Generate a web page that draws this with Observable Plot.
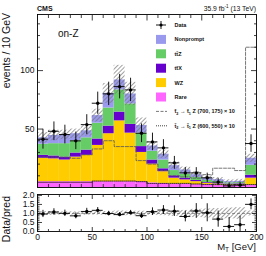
<!DOCTYPE html>
<html><head><meta charset="utf-8">
<script src="https://cdn.jsdelivr.net/npm/d3@7"></script>
<script src="https://cdn.jsdelivr.net/npm/@observablehq/plot@0.6"></script>
<style>
body{margin:0;background:#fff;}
#wrap{position:relative;width:266px;height:256px;}
#wrap svg{position:absolute;left:0;}
</style></head><body><div id="wrap"></div>
<script>
const FONT = "'Liberation Sans', Arial, Helvetica, sans-serif";

// ---- data ----
const binLow = [0,10,20,30,40,50,60,70,80,90,100,110,120,130,140,150,160,170,180,190];
const binWidth = 10;
const processes = ["Rare","WZ","ttX","ttZ","Nonprompt"];
const colors = ["#ff66ff","#ffcc00","#6600cc","#66cc66","#9999ee"];
const rare      = [5,5,5,5,5,5,5,5,5,5,4,3.5,3,3,2.5,2.5,2,2,2,2];
const wz        = [20,19.5,18.5,21,22.5,31,41,52,41.5,25,16,10,5,3.5,2.5,1,1,0.5,0.7,6];
const ttx       = [2.5,2.5,2.5,3.5,4.5,5.5,6.5,7.5,7.5,5,3.5,2.5,2,1.5,1,0.7,0.5,0.5,0.5,2.5];
const ttz       = [9.5,10.5,11.5,10.5,10.5,13.5,15.5,19,17.5,11.5,7.5,7.5,4.5,3.5,2.5,1.8,1.5,1,1,8.5];
const nonprompt = [5.5,7,7.5,6,6,6.5,12.5,8.5,8.5,6.5,4.5,5,4.2,3.5,2.5,2,1.7,1,1.1,6];
const bkgUnc    = [4.5,4.5,4,4,4.5,5.5,8.5,12.5,10,6.5,3.5,3.5,3,2.5,2.5,2,1.8,1.5,1.7,3.5];
const dataY     = [41.3,48.1,45.3,39.9,53.8,72.1,80.1,86.3,83.5,46.4,39,33.9,21.1,12.5,12.5,8.3,4.6,1.4,2,37.6];
const dataErr   = [8.5,8,8,7.5,8.5,9.5,10,10.5,10,8,7.5,7,5.5,4.5,4.5,4,3,2.5,2.5,7.5];
const sig700    = [26,26,26,25,28,33,40,35,35,23,20,14.5,10,9,8,11,16.5,16.5,14.5,120];
const sig600    = [4.5,4.5,4.5,4.5,4.5,5.5,5.5,5.5,5.5,5,3.5,3.5,3.5,3.5,3,2.5,2.5,2.5,2.5,2.5];

const xTicksMajor = [0,50,100,150,200];
const xTicksMinor = [10,20,30,40,60,70,80,90,110,120,130,140,160,170,180,190];
const yTicksMajor = [0,50,100];
const yTicksMinor = [10,20,30,40,60,70,80,90,110,120,130,140];
const yTickLabels = [50,100];
const rTicksMajor = [0,0.5,1,1.5,2];
const rTicksMinor = [0.1,0.2,0.3,0.4,0.6,0.7,0.8,0.9,1.1,1.2,1.3,1.4,1.6,1.7,1.8,1.9];

const legendLabels = ["Data","Nonprompt","tt\u0304Z","tt\u0304X","WZ","Rare"];

// ---- derived tables ----
const comps = [rare, wz, ttx, ttz, nonprompt];
const stackRows = [];
processes.forEach((p, k) => binLow.forEach((x, i) =>
  stackRows.push({x1: x, x2: x + binWidth, y: comps[k][i], proc: p})));
const bins = binLow.map((x, i) => {
  const tot = rare[i] + wz[i] + ttx[i] + ttz[i] + nonprompt[i];
  return {x1: x, x2: x + binWidth, xc: x + binWidth / 2, tot, unc: bkgUnc[i],
          data: dataY[i], err: dataErr[i], ratio: dataY[i] / tot, rerr: dataErr[i] / tot};
});
const stepLine = arr => [...binLow.map((x, i) => ({x, y: arr[i]})),
  {x: binLow[binLow.length - 1] + binWidth, y: arr[arr.length - 1]}];

function tickAxes(kind, major, minor, majLen, minLen) {
  const ax = kind === "x" ? Plot.axisX : Plot.axisY;
  const out = [];
  const anchors = kind === "x" ? ["bottom", "top"] : ["left", "right"];
  for (const a of anchors) {
    for (const [ticks, len] of [[major, majLen], [minor, minLen]]) {
      const sgn = (a === "left" || a === "top") ? 1 : -1;
      const o = {anchor: a, ticks, tickSize: len, tickFormat: () => "", label: null, strokeWidth: 0.8};
      if (kind === "x") o.dy = sgn * len; else o.dx = sgn * len;
      out.push(ax(o));
    }
  }
  return out;
}

function addHatch(svg, id) {
  const defs = d3.select(svg).insert("defs", ":first-child");
  const p = defs.append("pattern").attr("id", id).attr("patternUnits", "userSpaceOnUse")
    .attr("width", 3).attr("height", 3).attr("patternTransform", "rotate(45)");
  p.append("line").attr("x1", 0.5).attr("y1", 0).attr("x2", 0.5).attr("y2", 3)
    .attr("stroke", "#777").attr("stroke-width", 0.7);
}

const styleObj = {fontFamily: FONT, fontSize: "8.5px", background: "transparent", color: "#111"};

// ---- main panel ----
const main = Plot.plot({
  width: 266, height: 190, marginLeft: 37, marginRight: 10, marginTop: 14, marginBottom: 3,
  style: styleObj,
  x: {domain: [0, 200], axis: null},
  y: {domain: [0, 148], axis: null},
  color: {domain: processes, range: colors},
  marks: [
    Plot.rectY(stackRows, {x1: "x1", x2: "x2", y: "y", fill: "proc"}),
    Plot.rect(bins, {x1: "x1", x2: "x2", y1: d => d.tot - d.unc, y2: d => d.tot + d.unc, fill: "url(#hatchMain)"}),
    Plot.line(stepLine(sig700), {x: "x", y: "y", curve: "step-after", stroke: "#555", strokeWidth: 0.8, strokeDasharray: "3,1.5"}),
    Plot.line(stepLine(sig600), {x: "x", y: "y", curve: "step-after", stroke: "#111", strokeWidth: 0.8, strokeDasharray: "1,1"}),
    Plot.ruleX(bins, {x: "xc", y1: d => Math.max(0, d.data - d.err), y2: d => d.data + d.err, stroke: "black", strokeWidth: 0.9}),
    Plot.ruleY(bins, {y: "data", x1: "x1", x2: "x2", stroke: "black", strokeWidth: 0.9}),
    Plot.dot(bins, {x: "xc", y: "data", r: 1.7, fill: "black", stroke: null}),
    Plot.frame({stroke: "black", strokeWidth: 0.9}),
    ...tickAxes("x", xTicksMajor, xTicksMinor, 5.5, 3),
    ...tickAxes("y", yTicksMajor, yTicksMinor, 6, 3),
    Plot.axisY({anchor: "left", ticks: yTickLabels, tickSize: 0, tickPadding: 3, label: null, fontSize: 8.5})
  ]
});
addHatch(main, "hatchMain");
main.style.top = "0px";
document.getElementById("wrap").appendChild(main);

// ---- ratio panel ----
const ratio = Plot.plot({
  width: 266, height: 68, marginLeft: 37, marginRight: 10, marginTop: 6, marginBottom: 25,
  style: styleObj,
  x: {domain: [0, 200], axis: null},
  y: {domain: [0, 2.05], axis: null},
  marks: [
    Plot.rect(bins, {x1: "x1", x2: "x2", y1: d => 1 - d.unc / d.tot, y2: d => 1 + d.unc / d.tot, fill: "url(#hatchRatio)"}),
    Plot.ruleY([1], {stroke: "#666", strokeWidth: 0.7, strokeDasharray: "3,2"}),
    Plot.ruleX(bins, {x: "xc", y1: d => Math.max(0, d.ratio - d.rerr), y2: d => d.ratio + d.rerr, stroke: "black", strokeWidth: 0.9}),
    Plot.ruleY(bins, {y: "ratio", x1: "x1", x2: "x2", stroke: "black", strokeWidth: 0.9}),
    Plot.dot(bins, {x: "xc", y: "ratio", r: 1.7, fill: "black", stroke: null}),
    Plot.frame({stroke: "black", strokeWidth: 0.9}),
    ...tickAxes("x", xTicksMajor, xTicksMinor, 4, 2),
    ...tickAxes("y", rTicksMajor, rTicksMinor, 5, 2.5),
    Plot.axisY({anchor: "left", ticks: rTicksMajor, tickSize: 0, tickPadding: 3, label: null, fontSize: 8.5}),
    Plot.axisX({anchor: "bottom", ticks: xTicksMajor, tickSize: 0, tickPadding: 2, label: null, fontSize: 8.5})
  ]
});
addHatch(ratio, "hatchRatio");
ratio.style.top = "188px";
document.getElementById("wrap").appendChild(ratio);

// ---- overlay text & legend ----
const ov = d3.select("#wrap").append("svg").attr("width", 266).attr("height", 256)
  .style("top", "0px").style("pointer-events", "none").attr("font-family", FONT).attr("fill", "#111");
ov.append("text").attr("x", 37).attr("y", 10.5).attr("font-weight", "bold").attr("font-size", 7).text("CMS");
const lumi = ov.append("text").attr("x", 256).attr("y", 10.5).attr("text-anchor", "end").attr("font-size", 6.8);
lumi.append("tspan").text("35.9 fb");
lumi.append("tspan").attr("dy", -2.6).attr("font-size", 4.6).text("-1");
lumi.append("tspan").attr("dy", 2.6).text(" (13 TeV)");
ov.append("text").attr("x", 58).attr("y", 37).attr("font-size", 10).text("on-Z");
ov.append("text").attr("transform", "translate(10,13) rotate(-90)").attr("text-anchor", "end")
  .attr("font-size", 10.5).text("events / 10 GeV");
ov.append("text").attr("transform", "translate(10,196) rotate(-90)").attr("text-anchor", "end")
  .attr("font-size", 10.5).text("Data/pred");
const mt = ov.append("text").attr("x", 256).attr("y", 250).attr("text-anchor", "end").attr("font-size", 9.5);
mt.append("tspan").text("M");
mt.append("tspan").attr("dy", 2).attr("font-size", 6.5).text("T");
mt.append("tspan").attr("dy", -2).text(" [GeV]");

// legend
const lgX = 156, lgTx = 174.5, lgY0 = 25, lgStep = 14.4;
const lg = ov.append("g").attr("font-size", 5.5).attr("font-weight", "bold");
legendLabels.forEach((lab, i) => {
  const y = lgY0 + i * lgStep;
  if (i === 0) {
    lg.append("line").attr("x1", lgX).attr("x2", lgX + 10).attr("y1", y).attr("y2", y).attr("stroke", "#000").attr("stroke-width", 0.9);
    lg.append("line").attr("x1", lgX + 5).attr("x2", lgX + 5).attr("y1", y - 4).attr("y2", y + 4).attr("stroke", "#000").attr("stroke-width", 0.9);
    lg.append("circle").attr("cx", lgX + 5).attr("cy", y).attr("r", 1.6).attr("fill", "#000");
  } else {
    const col = colors[processes.length - i];
    lg.append("rect").attr("x", lgX).attr("y", y - 4.5).attr("width", 10).attr("height", 9).attr("fill", col);
  }
  lg.append("text").attr("x", lgTx).attr("y", y).attr("dy", "0.35em").text(lab);
});
const sigLabels = [["2", "1", " Z (700, 175) \u00d7 10", "#555", "3,1.5"], ["2", "1", " Z (600, 550) \u00d7 10", "#111", "1,1"]];
sigLabels.forEach((s, j) => {
  const y = lgY0 + (6 + j) * lgStep;
  lg.append("line").attr("x1", lgX).attr("x2", lgX + 11).attr("y1", y).attr("y2", y)
    .attr("stroke", s[3]).attr("stroke-width", 0.8).attr("stroke-dasharray", s[4]);
  const t = lg.append("text").attr("x", lgTx).attr("y", y).attr("dy", "0.35em");
  t.append("tspan").text("t\u0303");
  t.append("tspan").attr("dy", 1.3).attr("font-size", 3.8).text(s[0]);
  t.append("tspan").attr("dy", -1.3).text(" \u2192 t\u0303");
  t.append("tspan").attr("dy", 1.3).attr("font-size", 3.8).text(s[1]);
  t.append("tspan").attr("dy", -1.3).text(s[2]);
});
</script></body></html>
